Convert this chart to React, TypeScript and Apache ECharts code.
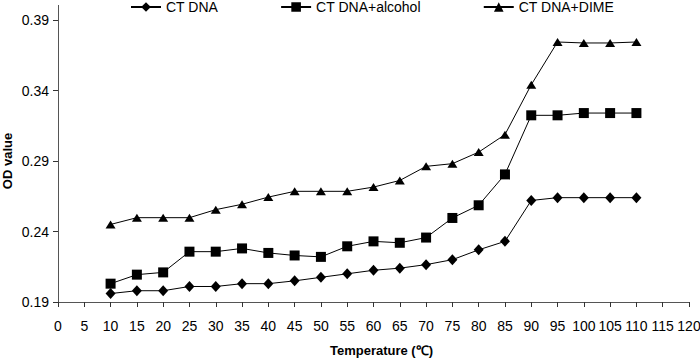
import React, { useEffect, useRef } from "react";
import * as echarts from "echarts";

const temperatures = [10, 15, 20, 25, 30, 35, 40, 45, 50, 55, 60, 65, 70, 75, 80, 85, 90, 95, 100, 105, 110];
const ctDna = [0.196, 0.198, 0.198, 0.201, 0.201, 0.203, 0.203, 0.205, 0.2075, 0.210, 0.2125, 0.214, 0.2165, 0.220, 0.227, 0.233, 0.262, 0.264, 0.264, 0.264, 0.264];
const ctDnaAlcohol = [0.203, 0.2094, 0.211, 0.2257, 0.2257, 0.228, 0.2248, 0.223, 0.222, 0.2295, 0.233, 0.232, 0.2357, 0.2496, 0.2586, 0.2805, 0.3224, 0.3224, 0.324, 0.324, 0.324];
const ctDnaDime = [0.245, 0.2498, 0.2498, 0.2498, 0.2555, 0.2593, 0.2644, 0.2685, 0.2685, 0.2685, 0.2715, 0.2762, 0.2862, 0.2881, 0.2963, 0.3087, 0.3441, 0.3744, 0.3737, 0.3737, 0.3744];
const seriesNames = ["CT DNA", "CT DNA+alcohol", "CT DNA+DIME"];
const yTicks = [0.19, 0.24, 0.29, 0.34, 0.39];

const FONT = "'Liberation Sans', Arial, sans-serif";

export default function App() {
  const ref = useRef<HTMLDivElement>(null);
  useEffect(() => {
    if (!ref.current) return;
    const chart = echarts.init(ref.current, null, { renderer: "svg" });
    const pair = (vals: number[]) => temperatures.map((t, i) => [t, vals[i]]);
    const mkSeries = (name: string, vals: number[], symbol: string, size: number | number[]) => ({
      name,
      type: "line",
      data: pair(vals),
      symbol,
      symbolSize: size,
      lineStyle: { color: "#000", width: 1 },
      itemStyle: { color: "#000" },
      emphasis: { disabled: true },
    });
    chart.setOption({
      animation: false,
      textStyle: { fontFamily: FONT },
      legend: {
        top: 0,
        left: 130,
        padding: 0,
        itemGap: 62,
        itemWidth: 30,
        itemHeight: 12,
        textStyle: { fontSize: 14, color: "#000", fontFamily: FONT },
        data: seriesNames,
      },
      grid: { left: 58, right: 11, top: 20, bottom: 57, containLabel: false, outerBoundsMode: "none" },
      xAxis: {
        type: "value",
        min: 0,
        max: 120,
        interval: 5,
        name: "Temperature (℃)",
        nameLocation: "middle",
        nameGap: 42,
        nameMoveOverlap: false,
        nameTextStyle: { fontSize: 13, fontWeight: "bold", color: "#000", fontFamily: FONT, padding: [0, 0, 0, 16] },
        axisLine: { lineStyle: { color: "#555", width: 1 } },
        axisTick: { show: true, length: 5, lineStyle: { color: "#333" } },
        axisLabel: { fontSize: 14, color: "#000", margin: 17, fontFamily: FONT },
        splitLine: { show: false },
      },
      yAxis: {
        type: "value",
        min: yTicks[0],
        max: yTicks[yTicks.length - 1],
        interval: 0.05,
        name: "OD value",
        nameLocation: "middle",
        nameGap: 44,
        nameMoveOverlap: false,
        nameTextStyle: { fontSize: 13, fontWeight: "bold", color: "#000", fontFamily: FONT },
        axisLine: { show: true, lineStyle: { color: "#555", width: 1 } },
        axisTick: { show: true, length: 5, lineStyle: { color: "#333" } },
        axisLabel: { fontSize: 14, color: "#000", margin: 9, fontFamily: FONT, formatter: (v: number) => v.toFixed(2) },
        splitLine: { show: false },
      },
      graphic: [
        { type: "line", shape: { x1: 58.5, y1: 5, x2: 58.5, y2: 20 }, style: { stroke: "#555", lineWidth: 1 } },
      ],
      series: [
        mkSeries(seriesNames[0], ctDna, "diamond", [10, 11]),
        mkSeries(seriesNames[1], ctDnaAlcohol, "rect", 10),
        mkSeries(seriesNames[2], ctDnaDime, "triangle", [10, 8]),
      ],
    });
    return () => chart.dispose();
  }, []);
  return <div ref={ref} style={{ width: 700, height: 359, position: "absolute", left: 0, top: 0 }} />;
}
